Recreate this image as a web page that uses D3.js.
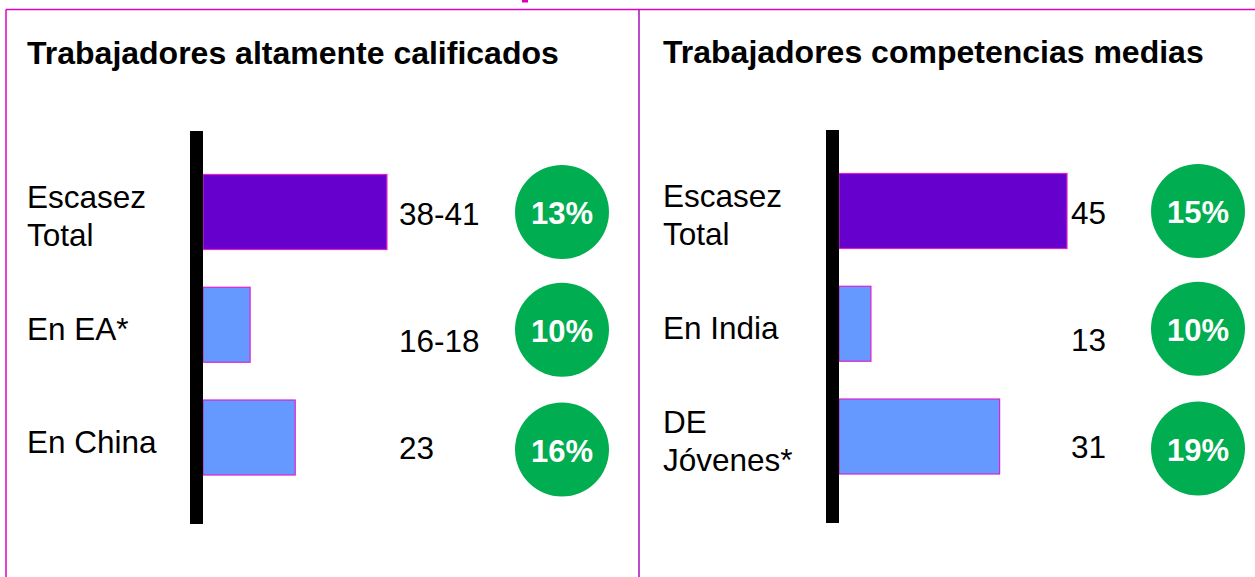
<!DOCTYPE html>
<html>
<head>
<meta charset="utf-8">
<script src="https://cdn.jsdelivr.net/npm/d3@7"></script>
<style>
  body { margin: 0; background: #fff; }
  svg text { font-family: "Liberation Sans", Arial, sans-serif; }
</style>
</head>
<body>
<div id="chart"></div>
<script>
// data
const panelTitles = ["Trabajadores altamente calificados", "Trabajadores competencias medias"];

const highSkillCategories = [["Escasez", "Total"], ["En EA*"], ["En China"]];
const highSkillBars = [36.3, 9.3, 18.2];          // bar lengths as drawn
const highSkillLabels = ["38-41", "16-18", "23"];
const highSkillShares = ["13%", "10%", "16%"];

const midSkillCategories = [["Escasez", "Total"], ["En India"], ["DE", "Jóvenes*"]];
const midSkillBars = [45, 6.3, 31.7];
const midSkillLabels = ["45", "13", "31"];
const midSkillShares = ["15%", "10%", "19%"];

// layout
let width = 1255, height = 577;
let magenta = "#e000c0", divider = "#a810b8";
let barColors = ["#6600cc", "#6699ff", "#6699ff"];
let green = "#00ad50";
let valueDy = [13, 27, 21.5];   // value labels sit a bit lower than bar centres
let circleDy = [0, 5, 12];

let svg = d3.select("#chart").append("svg")
	.attr("width", width)
	.attr("height", height);

// frame lines
svg.append("line").attr("x1", 6).attr("x2", width).attr("y1", 9.5).attr("y2", 9.5)
	.attr("stroke", magenta).attr("stroke-width", 1.5);
svg.append("line").attr("x1", 6).attr("x2", 6).attr("y1", 9.5).attr("y2", height)
	.attr("stroke", magenta).attr("stroke-width", 1.5);
svg.append("line").attr("x1", 639).attr("x2", 639).attr("y1", 9.5).attr("y2", height)
	.attr("stroke", divider).attr("stroke-width", 1.5);
svg.append("rect").attr("x", 522).attr("y", 0).attr("width", 6).attr("height", 2.5)
	.attr("fill", magenta);

// one scale for bar length, shared by both panels
let x = d3.scaleLinear().domain([0, 45]).range([0, 228]);

let panels = [
	{title: panelTitles[0], cats: highSkillCategories, bars: highSkillBars, labels: highSkillLabels,
		shares: highSkillShares, ox: 0, oy: 0, valueX: 399},
	{title: panelTitles[1], cats: midSkillCategories, bars: midSkillBars, labels: midSkillLabels,
		shares: midSkillShares, ox: 636, oy: -1, valueX: 435}
];

panels.forEach(p => {
	let g = svg.append("g").attr("transform", "translate(" + p.ox + "," + p.oy + ")");
	let axisX = 203;

	let y = d3.scaleBand()
		.domain(d3.range(p.bars.length))
		.range([174.5, 475])
		.paddingInner(0.335)
		.paddingOuter(0);
	let mid = i => y(i) + y.bandwidth() / 2;

	g.append("text")
		.attr("x", 27).attr("y", 64)
		.attr("font-size", 32).attr("font-weight", "bold")
		.text(p.title);

	// bars
	g.selectAll(".bar").data(p.bars).enter().append("rect")
		.attr("class", "bar")
		.attr("x", axisX)
		.attr("y", (d, i) => y(i))
		.attr("width", d => x(d))
		.attr("height", y.bandwidth())
		.attr("fill", (d, i) => barColors[i])
		.attr("stroke", "#dd22cc")
		.attr("stroke-width", 1.2);

	// thick black axis
	g.append("rect")
		.attr("x", axisX - 13).attr("y", 131)
		.attr("width", 13).attr("height", 393)
		.attr("fill", "#000");

	// category labels (multi-line)
	g.selectAll(".cat").data(p.cats).enter().append("text")
		.attr("class", "cat")
		.attr("font-size", 31.5)
		.each(function(lines, i) {
			let t = d3.select(this);
			lines.forEach((s, k) => {
				t.append("tspan")
					.attr("x", 27)
					.attr("y", mid(i) + 15 + (k - (lines.length - 1) / 2) * 38)
					.text(s);
			});
		});

	// values
	g.selectAll(".val").data(p.labels).enter().append("text")
		.attr("class", "val")
		.attr("x", p.valueX)
		.attr("y", (d, i) => mid(i) + valueDy[i])
		.attr("font-size", 31.5)
		.text(d => d);

	// green share circles
	let c = g.selectAll(".share").data(p.shares).enter().append("g")
		.attr("class", "share")
		.attr("transform", (d, i) => "translate(562," + (mid(i) + circleDy[i]) + ")");
	c.append("circle").attr("r", 47).attr("fill", green);
	c.append("text")
		.attr("text-anchor", "middle")
		.attr("y", 12)
		.attr("font-size", 31).attr("font-weight", "bold")
		.attr("fill", "#fff")
		.text(d => d);
});
</script>
</body>
</html>
